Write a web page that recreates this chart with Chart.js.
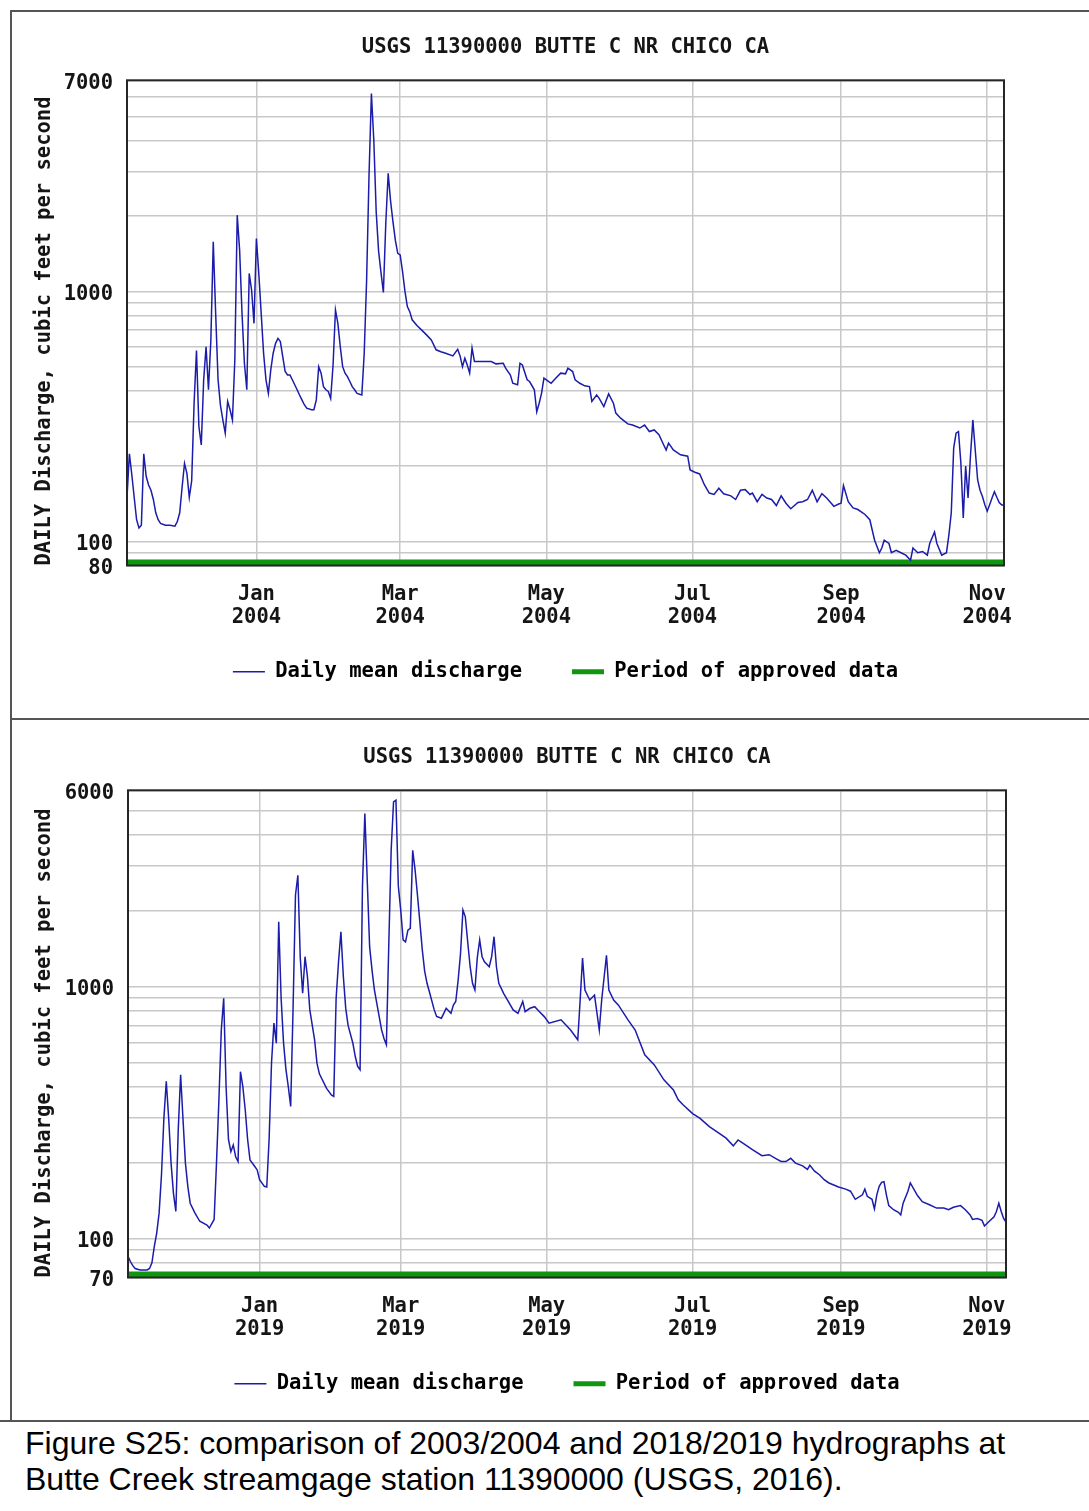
<!DOCTYPE html>
<html>
<head>
<meta charset="utf-8">
<script src="https://cdn.jsdelivr.net/npm/chart.js@4.4.1/dist/chart.umd.min.js"></script>
<style>
  body { margin: 0; background: #fff; width: 1089px; height: 1511px; position: relative; overflow: hidden; }
  .rule { position: absolute; background: #555; }
  .panel { position: absolute; left: 11px; width: 1077px; }
  #caption { position: absolute; left: 25px; top: 1425px; font-family: "Liberation Sans", Arial, sans-serif;
             font-size: 32px; line-height: 36px; color: #000; }
</style>
</head>
<body>
<div class="rule" style="left:10px;top:10px;width:1079px;height:2px"></div>
<div class="rule" style="left:10px;top:10px;width:2px;height:1411px"></div>
<div class="rule" style="left:10px;top:718px;width:1079px;height:2px"></div>
<div class="rule" style="left:0;top:1420px;width:1089px;height:2px"></div>
<div class="panel" style="top:11px;height:707px"><canvas id="chart2004"></canvas></div>
<div class="panel" style="top:720px;height:700px"><canvas id="chart2019"></canvas></div>
<div id="caption">Figure S25: comparison of 2003/2004 and 2018/2019 hydrographs at<br>Butte Creek streamgage station 11390000 (USGS, 2016).</div>

<script>
// days counted from Jan 1 of the second year (negative = Nov/Dec of the year before)
const days2004 = [-54,-53,-52,-51,-50,-49,-48,-47,-46,-45,-44,-43,-42,-41,-40,-38,-36,-34,-33,-32,-31,-30,-29,-28,-27,-26,-25,-24,-23,-22,-21,-20,-19,-18,-17,-16,-15,-14,-13,-12,-11,-10,-9,-8,-7,-6,-5,-4,-3,-2,-1,
  0,1,2,3,4,5,6,7,8,9,10,11,12,13,14,15,16,17,18,19,20,21,23,24,25,26,27,28,29,30,31,32,33,34,35,36,37,38,39,40,41,42,44,45,46,47,48,49,50,51,52,53,54,55,56,57,58,59,60,61,62,63,64,65,67,69,71,73,75,77,79,82,84,85,86,87,88,89,90,91,95,98,
  100,103,104,106,107,109,110,111,113,114,116,117,118,119,120,121,123,125,127,129,130,132,133,135,137,139,140,142,143,145,147,149,150,152,155,157,160,162,164,166,168,170,171,172,174,177,180,181,183,185,187,189,191,193,195,198,
  200,202,204,206,207,209,211,213,215,217,219,221,223,226,228,230,232,234,236,238,241,243,244,245,247,249,251,254,256,257,258,260,261,262,264,265,267,269,271,273,274,276,278,280,281,283,284,286,288,289,290,291,292,293,294,295,296,297,298,299,
  300,301,302,303,304,305,306,307,308,309,310,311,312];
const flow2004 = [150,224,185,150,122,113,116,224,182,168,160,147,130,122,118,116,116,115,120,130,165,205,187,150,175,357,580,288,243,443,601,404,640,1580,817,443,350,306,271,363,336,306,532,2020,1464,817,516,404,1181,1013,745,
  1630,1181,817,566,443,391,485,566,620,649,630,548,478,463,463,443,423,404,385,368,352,341,336,336,368,500,471,416,404,398,373,508,843,745,601,500,471,456,436,416,404,391,385,566,1111,2900,6200,4030,2080,1450,1190,990,1876,2970,2300,1900,1600,1420,1400,1200,1000,870,830,770,730,700,670,640,584,574,566,552,587,552,500,540,508,471,593,524,524,524,
  513,516,493,463,429,423,516,508,443,436,404,330,357,391,450,443,429,450,471,468,493,478,443,429,419,416,363,385,374,346,389,357,326,311,295,292,284,292,275,279,267,243,232,247,232,222,219,193,189,186,168,156,154,163,155,152,
  147,160,161,154,156,144,154,149,147,139,152,142,135,143,144,147,160,144,155,149,138,141,142,167,144,136,134,128,122,111,101,90,94,101,98,90,92,90,88,84,94,90,91,88,98,109,98,88,90,106,130,236,271,275,206,124,200,149,219,306,
  232,176,160,151,140,132,140,149,158,150,143,140,139];

const days2019 = [-55,-54,-53,-52,-50,-47,-46,-45,-44,-43,-42,-41,-40,-39,-38,-37,-36,-35,-34,-33,-32,-31,-30,-29,-27,-25,-22,-21,-19,-18,-17,-16,-15,-14,-13,-12,-11,-10,-9,-8,-7,-6,-5,-4,-2,-1,
  0,2,3,4,5,6,7,8,9,10,11,12,13,14,15,16,17,18,19,20,21,23,24,25,28,30,31,32,33,34,35,36,37,39,40,41,42,43,44,45,46,47,48,49,50,51,52,53,54,55,56,57,58,59,60,61,62,63,64,65,66,67,68,69,70,71,73,74,76,77,78,80,81,82,83,84,85,86,87,88,89,90,91,92,93,94,96,97,98,99,
  100,102,104,106,108,110,111,113,115,117,119,121,126,130,133,134,135,136,138,140,142,143,145,146,148,150,154,157,161,165,169,173,175,177,181,184,188,192,195,198,
  200,202,206,210,213,216,218,220,222,224,227,229,230,232,234,236,238,242,245,247,249,252,253,254,256,257,258,259,260,261,262,263,265,267,268,269,271,272,273,275,277,280,283,286,288,290,293,295,297,298,
  300,302,303,305,307,308,309,310,311,312];
const flow2019 = [85,81,78,76,75,75,76,80,93,105,126,179,300,420,300,199,151,128,270,446,296,199,161,138,126,117,113,110,119,200,355,672,897,400,247,221,235,211,202,459,400,324,247,205,193,187,
  171,161,160,250,500,715,595,1805,900,600,470,400,334,819,2300,2762,1300,939,1312,1094,807,614,495,450,394,371,366,900,1253,1648,1100,820,700,595,527,481,467,2484,4850,2640,1438,1161,968,857,759,672,622,587,1450,3466,5400,5480,2500,2009,1530,1503,1673,1700,3466,2900,2300,1800,1400,1150,1029,950,807,760,748,782,819,782,844,871,1060,1353,2009,1888,1500,1200,1029,968,1300,1530,1312,1253,1197,1312,1575,1197,
  1029,939,871,807,782,871,794,819,831,794,759,715,737,671,614,883,1297,968,883,924,671,883,1330,968,883,843,737,671,535,488,426,388,355,339,313,300,278,262,250,233,
  246,239,225,213,215,207,202,202,208,199,194,188,195,185,179,171,166,160,157,154,143,149,157,147,143,131,149,161,167,168,149,135,130,127,124,138,154,166,160,148,140,136,132,132,130,133,135,130,124,119,
  120,118,112,117,122,128,138,128,120,116];

const monthNames = ['Jan', 'Mar', 'May', 'Jul', 'Sep', 'Nov'];
const monthDays2004 = [0, 60, 121, 182, 244, 305];   // 2004 is a leap year
const monthDays2019 = [0, 59, 120, 181, 243, 304];

const gridValues2004 = [80, 90, 100, 200, 300, 400, 500, 600, 700, 800, 900, 1000, 2000, 3000, 4000, 5000, 6000, 7000];
const labelValues2004 = [80, 100, 1000, 7000];
const gridValues2019 = [70, 80, 90, 100, 200, 300, 400, 500, 600, 700, 800, 900, 1000, 2000, 3000, 4000, 5000, 6000];
const labelValues2019 = [70, 100, 1000, 6000];

const FONT = '"DejaVu Sans Mono", "Liberation Mono", monospace';
const TEXT = '#151515';
const BLUE = 'rgb(28, 28, 170)';
const GREEN = 'rgb(16, 150, 16)';

// dark frame round the plot area
const plotFrame = {
    id: 'plotFrame',
    afterDatasetsDraw(chart) {
        const a = chart.chartArea;
        const c = chart.ctx;
        c.save();
        c.strokeStyle = '#262626';
        c.lineWidth = 2;
        c.strokeRect(a.left, a.top, a.right - a.left, a.bottom - a.top);
        c.restore();
    }
};

function makeChart(id, cfg) {
    const pts = cfg.days.map((d, i) => ({ x: d, y: cfg.flow[i] }));
    new Chart(document.getElementById(id), {
        type: 'line',
        data: {
            datasets: [{
                label: 'Daily mean discharge',
                data: pts,
                borderColor: BLUE,
                borderWidth: 1.5,
                pointRadius: 0,
                tension: 0
            }, {
                label: 'Period of approved data',
                data: [{ x: cfg.xMin, y: cfg.yMin }, { x: cfg.xMax, y: cfg.yMin }],
                borderColor: GREEN,
                borderWidth: 12,
                pointRadius: 0,
                legendWidth: 5
            }]
        },
        options: {
            responsive: true,
            maintainAspectRatio: false,
            animation: false,
            layout: { padding: { left: 0, top: 0, right: cfg.padRight, bottom: cfg.padBottom } },
            scales: {
                x: {
                    type: 'linear',
                    min: cfg.xMin,
                    max: cfg.xMax,
                    afterBuildTicks: s => { s.ticks = cfg.monthDays.map(v => ({ value: v })); },
                    afterFit: s => { s.height = 46; },
                    grid: { color: '#c8c8c8', lineWidth: 1.5, drawTicks: false },
                    border: { display: false },
                    ticks: {
                        // mirror + negative padding keeps the two-line labels below the axis
                        // without clipping them to the (short) axis box
                        mirror: true,
                        padding: -40.5,
                        autoSkip: false,
                        maxRotation: 0,
                        color: TEXT,
                        font: { family: FONT, size: 20.5, weight: 'bold', lineHeight: 1.12 },
                        callback: v => [monthNames[cfg.monthDays.indexOf(v)], cfg.year]
                    }
                },
                y: {
                    type: 'logarithmic',
                    min: cfg.yMin,
                    max: cfg.yMax,
                    afterBuildTicks: s => { s.ticks = cfg.gridValues.map(v => ({ value: v })); },
                    afterFit: s => { s.width = cfg.yWidth; },
                    grid: { color: '#c8c8c8', lineWidth: 1.5, drawTicks: false },
                    border: { display: false },
                    ticks: {
                        autoSkip: false,
                        padding: 14,
                        color: TEXT,
                        // empty first line with a short line height nudges the label ~3px down
                        font: { family: FONT, size: 20.5, weight: 'bold', lineHeight: 0.3 },
                        callback: v => cfg.labelValues.includes(v) ? ['', String(v)] : ''
                    },
                    title: {
                        display: true,
                        text: 'DAILY Discharge, cubic feet per second',
                        align: 'start',
                        color: TEXT,
                        padding: { top: 21.5, bottom: 0 },
                        font: { family: FONT, size: 20.5, weight: 'bold' }
                    }
                }
            },
            plugins: {
                title: {
                    display: true,
                    fullSize: false,
                    text: 'USGS 11390000 BUTTE C NR CHICO CA',
                    color: TEXT,
                    padding: { top: cfg.titleTop, bottom: 20 },
                    font: { family: FONT, size: 20.5, weight: 'bold' }
                },
                legend: {
                    display: true,
                    position: 'bottom',
                    fullSize: false,
                    labels: {
                        usePointStyle: true,
                        pointStyleWidth: 32,
                        padding: 50,
                        color: TEXT,
                        font: { family: FONT, size: 20.5, weight: 'bold' },
                        generateLabels: chart => chart.data.datasets.map((ds, i) => ({
                            text: ds.label,
                            datasetIndex: i,
                            pointStyle: 'line',
                            strokeStyle: ds.borderColor,
                            fillStyle: ds.borderColor,
                            lineWidth: ds.legendWidth || ds.borderWidth,
                            hidden: false
                        }))
                    }
                },
                tooltip: { enabled: false }
            }
        },
        plugins: [plotFrame]
    });
}

makeChart('chart2004', {
    days: days2004, flow: flow2004, year: '2004', monthDays: monthDays2004,
    gridValues: gridValues2004, labelValues: labelValues2004,
    xMin: -54, xMax: 312, yMin: 80, yMax: 7000,
    yWidth: 116, padRight: 84, padBottom: 26, titleTop: 24.7
});
makeChart('chart2019', {
    days: days2019, flow: flow2019, year: '2019', monthDays: monthDays2019,
    gridValues: gridValues2019, labelValues: labelValues2019,
    xMin: -55, xMax: 312, yMin: 70, yMax: 6000,
    yWidth: 117, padRight: 82, padBottom: 16, titleTop: 25.7
});
</script>
</body>
</html>
